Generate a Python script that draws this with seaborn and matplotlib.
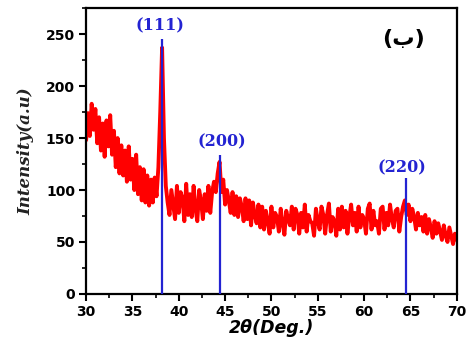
import numpy as np
import pandas as pd
import matplotlib
matplotlib.use("Agg")
import matplotlib.pyplot as plt
import seaborn as sns
from matplotlib.ticker import MultipleLocator

# ---- data ----
two_theta_start = 30.0
two_theta_step = 0.2
intensity = [
    148, 174, 152, 183, 158,
    178, 145, 170, 138, 164,
    132, 167, 142, 172, 134,
    157, 122, 150, 116, 143,
    114, 138, 108, 142, 110,
    130, 100, 134, 96, 122,
    90, 120, 88, 114, 85,
    110, 88, 112, 94, 122,
    175, 237, 150, 104, 88,
    76, 100, 86, 72, 104,
    78, 98, 92, 70, 106,
    76, 96, 74, 104, 82,
    70, 100, 90, 72, 96,
    80, 104, 78, 98, 108,
    98, 116, 127, 98, 110,
    86, 100, 90, 78, 98,
    76, 94, 74, 92, 84,
    70, 92, 72, 90, 66,
    88, 76, 68, 86, 64,
    84, 62, 80, 70, 58,
    84, 64, 78, 74, 60,
    82, 68, 57, 80, 72,
    66, 84, 62, 82, 76,
    58, 78, 64, 86, 60,
    76, 70, 68, 56, 82,
    70, 62, 84, 76, 58,
    76, 87, 60, 74, 70,
    56, 82, 62, 84, 64,
    80, 58, 74, 86, 66,
    78, 60, 84, 64, 76,
    72, 58, 82, 87, 62,
    80, 66, 70, 58, 82,
    84, 62, 78, 66, 86,
    72, 64, 80, 82, 60,
    74, 84, 90, 76, 86,
    70, 82, 74, 62, 78,
    66, 74, 60, 76, 58,
    72, 64, 54, 70, 58,
    68, 60, 52, 66, 56,
    50, 64, 56, 48, 58,
    52,
]
two_theta = [round(two_theta_start + i * two_theta_step, 2) for i in range(len(intensity))]

ref_positions = [38.2, 44.5, 64.5]
ref_heights = [245, 134, 112]
ref_labels = ["(111)", "(200)", "(220)"]
label_x = [38.0, 44.6, 64.1]
label_y = [258, 146, 121]

x_ticks = [30, 35, 40, 45, 50, 55, 60, 65, 70]
y_ticks = [0, 50, 100, 150, 200, 250]

df = pd.DataFrame({"two_theta": two_theta, "intensity": intensity})

sns.set_theme(style="ticks")
plt.rcParams['font.family'] = ['DejaVu Sans']

fig = plt.figure(figsize=(4.68, 3.55), dpi=100)
ax = fig.add_axes([0.184, 0.172, 0.792, 0.805])

sns.lineplot(data=df, x="two_theta", y="intensity", ax=ax, color="#ff0000",
             linewidth=2.8, zorder=2)
ax.vlines(ref_positions, 0, ref_heights, colors="#2323d2", linewidth=1.6, zorder=3)

for lx, ly, lab in zip(label_x, label_y, ref_labels):
    ax.text(lx, ly, lab, color="#2323d2", fontsize=11.5, fontweight="bold",
            family="DejaVu Serif", ha="center", va="center")

ax.text(64.3, 245, "(ب)", color="black", fontsize=16, fontweight="bold",
        ha="center", va="center", family="DejaVu Sans")

ax.set_xlim(30, 70)
ax.set_ylim(0, 275)
ax.set_xticks(x_ticks)
ax.set_yticks(y_ticks)
ax.xaxis.set_minor_locator(MultipleLocator(2.5))
ax.yaxis.set_minor_locator(MultipleLocator(25))
ax.tick_params(axis="both", which="major", direction="out", length=5, width=1.5,
               labelsize=10, pad=3, colors="black", labelcolor="black")
ax.tick_params(axis="both", which="minor", direction="out", length=3, width=1.2,
               colors="black")
for lab in ax.get_xticklabels() + ax.get_yticklabels():
    lab.set_fontweight("bold")

for sp in ax.spines.values():
    sp.set_visible(True)
    sp.set_linewidth(1.6)
    sp.set_color("black")

ax.set_xlabel("2θ(Deg.)", fontsize=12.5, fontweight="bold", fontstyle="italic",
              labelpad=0, color="black")
ax.set_ylabel("Intensity(a.u)", fontsize=12, fontweight="bold", fontstyle="italic",
              family="DejaVu Serif", labelpad=8, color="#222222")

fig.savefig("out.png", dpi=100)
